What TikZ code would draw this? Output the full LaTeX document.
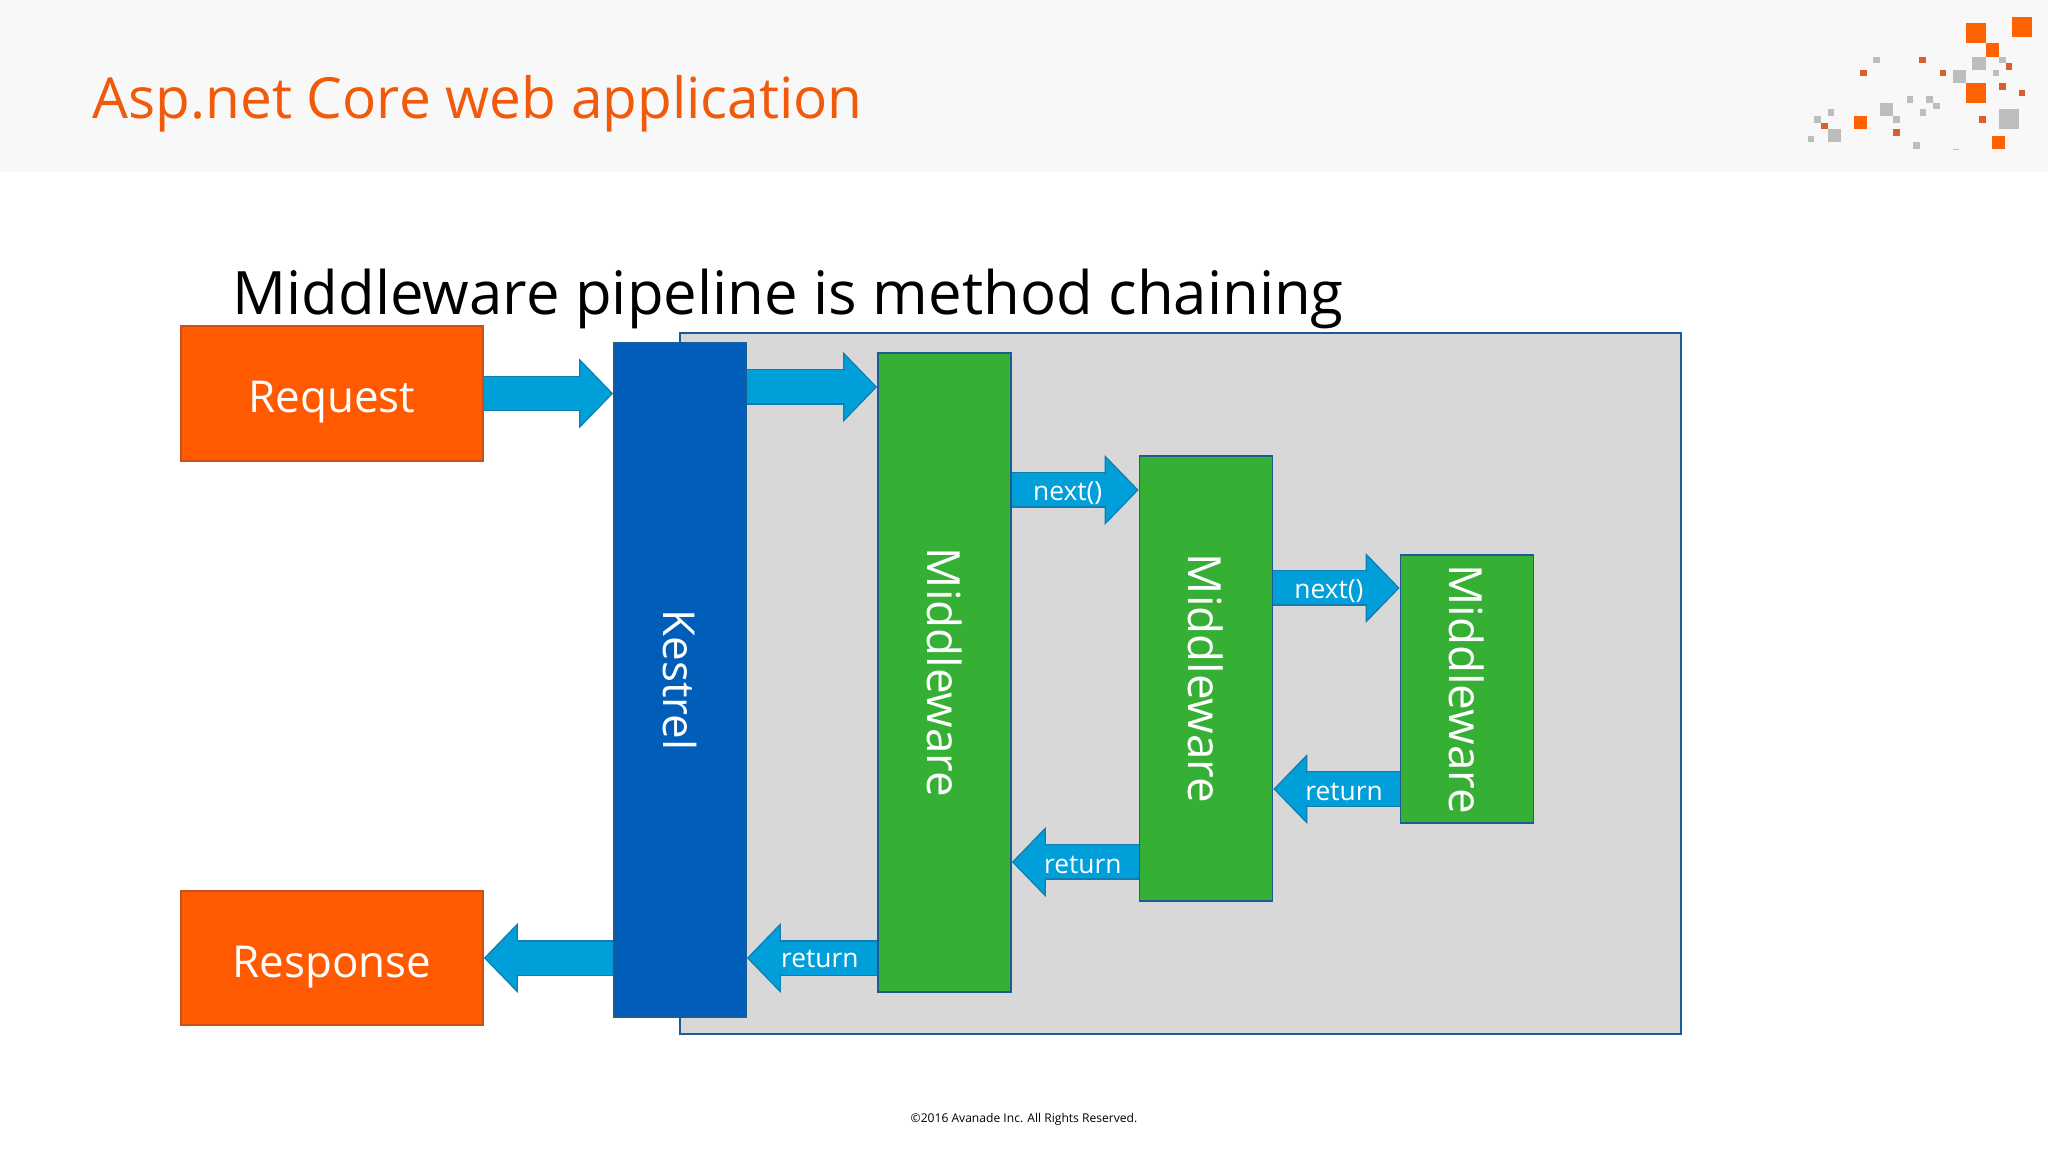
\documentclass[tikz,border=0pt]{standalone}
\usepackage{graphicx}
\usepackage{fontspec}
\setmainfont{Open Sans}
\usetikzlibrary{arrows.meta}
\definecolor{headgray}{HTML}{F8F8F8}
\definecolor{orangebox}{HTML}{FF5A00}
\definecolor{orangeline}{HTML}{C8501A}
\definecolor{titleorange}{HTML}{F05A0A}
\definecolor{kestrelblue}{HTML}{005EB8}
\definecolor{mwgreen}{HTML}{35B035}
\definecolor{edgeblue}{HTML}{1B5C96}
\definecolor{arrowblue}{HTML}{009FDA}
\definecolor{arrowline}{HTML}{0E7FB0}
\definecolor{appgray}{HTML}{D8D8D9}
\definecolor{dotgray}{HTML}{BDBDBD}
\definecolor{dotorange}{HTML}{FF6200}
\definecolor{dotdark}{HTML}{D9602A}
\tikzset{
	box/.style={draw=orangeline,line width=0.5pt,fill=orangebox,text=white,inner sep=0pt,minimum width=3.02cm,text height=0.39cm,text depth=0pt,font=\fontsize{12.5}{15}\selectfont},
	mwbox/.style={draw=edgeblue,line width=0.5pt,fill=mwgreen,text=white,inner sep=0pt,minimum width=1.33cm,font=\fontsize{13}{15}\selectfont},
	blockarrow/.style={draw=arrowline,line width=0.35pt,double=arrowblue,double distance=0.33cm,-{Triangle[length=0.34cm,width=0.70cm,fill=arrowblue]},
		postaction={draw=arrowblue,line width=0.32cm,-,shorten >=0.3cm}},
	arrowlabel/.style={text=white,inner sep=0pt,pos=0.44,yshift=-0.03cm,font=\fontsize{7.5}{10}\selectfont}
}
\begin{document}
\begin{tikzpicture}[y=-1cm]
	\useasboundingbox (0,0) rectangle (20.48,11.52);
	%slide background
	\fill[white] (0,0) rectangle (20.48,11.52);
	\fill[headgray] (0,0) rectangle (20.48,1.72);

	%logo squares, in their own small grid
	\begin{scope}[shift={(17.6,0)},x=0.00333cm,y=-0.00333cm]
		\foreach \a/\b in {650/100,788/80,650/280}
			\fill[dotorange] (\a-30,\b-30) rectangle ++(60,60);
		\foreach \a/\b in {700/150,302/368,718/428}
			\fill[dotorange] (\a-20,\b-20) rectangle ++(40,40);
		\foreach \a/\b in {489/180,312/220,550/220,749/200,730/260,788/280,193/379,411/399,669/359}
			\fill[dotdark] (\a-10,\b-10) rectangle ++(20,20);
		\foreach \a/\b in {658/190,600/230,381/329,223/408}
			\fill[dotgray] (\a-20,\b-20) rectangle ++(40,40);
		\fill[dotgray] (719,328) rectangle ++(60,60);
		\foreach \a/\b in {351/180,730/180,710/220,451/299,510/299,530/319,490/339,213/339,173/359,411/359,153/418,470/437}
			\fill[dotgray] (\a-10,\b-10) rectangle ++(20,20);
		\fill[dotgray] (581,448) rectangle ++(18,4);
	\end{scope}

	%titles
	\node[anchor=base west,inner sep=0pt,text=titleorange,font=\fontsize{16.14}{20}\selectfont] (title) at (0.92,1.19) {Asp.net Core web application};
	\node[anchor=base west,inner sep=0pt,text=black,font=\fontsize{17.04}{20}\selectfont] (subtitle) at (2.32,3.15) {Middleware pipeline is method chaining};
	\node[inner sep=0pt,font=\fontsize{3.44}{5}\selectfont] (copy) at (10.24,11.19) {©2016 Avanade Inc. All Rights Reserved.};

	%boxes
	\node[draw=edgeblue,line width=0.5pt,fill=appgray,minimum width=10.01cm,minimum height=7.01cm] (app) at (11.805,6.835) {};
	\node[box,minimum height=1.35cm] (request) at (3.32,3.935) {Request};
	\node[box,minimum height=1.34cm] (response) at (3.32,9.58) {Response};
	\node[mwbox,fill=kestrelblue,minimum width=1.32cm,minimum height=6.74cm,font=\fontsize{12.5}{15}\selectfont] (kestrel) at (6.8,6.8) {\rotatebox{-90}{Kestrel}};
	\node[mwbox,minimum height=6.39cm] (mwa) at (9.445,6.725) {\rotatebox{-90}{Middleware}};
	\node[mwbox,minimum height=4.45cm] (mwb) at (12.06,6.785) {\rotatebox{-90}{Middleware}};
	\node[mwbox,minimum height=2.68cm] (mwc) at (14.67,6.89) {\rotatebox{-90}{Middleware}};

	%arrow rows
	\coordinate (inrow) at (0,3.87);
	\coordinate (nextarow) at (0,4.90);
	\coordinate (nextbrow) at (0,5.88);
	\coordinate (retcrow) at (0,7.89);
	\coordinate (retbrow) at (0,8.62);

	%way in
	\draw[blockarrow] (request.east) -- (kestrel.west |- request.east);
	\draw[blockarrow] (kestrel.east |- inrow) -- (mwa.west |- inrow);
	\draw[blockarrow] (mwa.east |- nextarow) -- (mwb.west |- nextarow) node[arrowlabel] (nexta) {next()};
	\draw[blockarrow] (mwb.east |- nextbrow) -- (mwc.west |- nextbrow) node[arrowlabel] (nextb) {next()};

	%way out
	\draw[blockarrow] (mwc.west |- retcrow) -- (mwb.east |- retcrow) node[arrowlabel] (retc) {return};
	\draw[blockarrow] (mwb.west |- retbrow) -- (mwa.east |- retbrow) node[arrowlabel] (retb) {return};
	\draw[blockarrow] (mwa.west |- response.east) -- (kestrel.east |- response.east) node[arrowlabel,yshift=0.02cm] (reta) {return};
	\draw[blockarrow] (kestrel.west |- response.east) -- (response.east);
\end{tikzpicture}
\end{document}
